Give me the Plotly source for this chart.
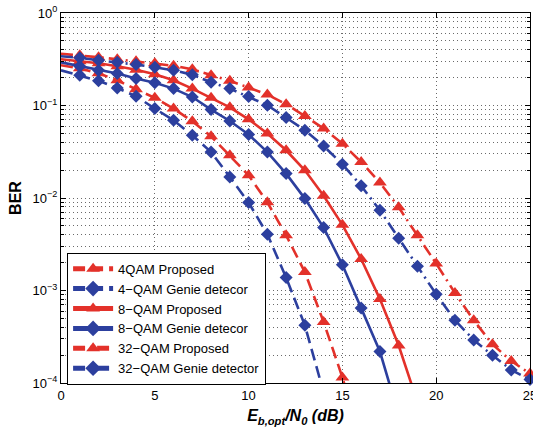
import plotly.graph_objects as go

# Eb,opt/N0 (dB)
snr_db = list(range(0, 26))

# BER values
qam4_prop = [0.272, 0.2524, 0.2229, 0.1872, 0.1497, 0.1211, 0.0926, 0.0675, 0.0465, 0.0289,
             0.01759, 0.00898, 0.00395, 0.00158, 0.000456, 0.000115, 0.000023]
qam4_genie = [0.2402, 0.2121, 0.1849, 0.1546, 0.1257, 0.0926, 0.0692, 0.0476, 0.0314, 0.01686,
              0.00894, 0.00405, 0.001379, 0.00042, 0.000079]
qam8_prop = [0.3158, 0.3005, 0.2858, 0.2653, 0.2431, 0.2175, 0.1872, 0.1523, 0.1211, 0.0956,
             0.0709, 0.0497, 0.0328, 0.01993, 0.01056, 0.00513, 0.00219, 0.000807, 0.000254, 0.000062]
qam8_genie = [0.2931, 0.2653, 0.2402, 0.2213, 0.1953, 0.1759, 0.1523, 0.1235, 0.0903, 0.0680,
              0.0485, 0.0314, 0.01835, 0.00985, 0.00479, 0.001896, 0.000645, 0.000219, 0.000045]
qam32_prop = [0.3622, 0.3488, 0.3320, 0.3158, 0.3005, 0.2858, 0.2686, 0.2462, 0.2121, 0.1849,
              0.1561, 0.1312, 0.1030, 0.0770, 0.0563, 0.0387, 0.0245, 0.01467, 0.00793, 0.00395,
              0.001953, 0.000940, 0.000476, 0.000262, 0.0001729, 0.0001264]
qam32_genie = [0.3402, 0.3279, 0.3081, 0.2931, 0.2768, 0.2588, 0.2402, 0.2147, 0.1781, 0.1523,
               0.1248, 0.1005, 0.0740, 0.0539, 0.0365, 0.02313, 0.01354, 0.00736, 0.00368, 0.001826,
               0.000910, 0.000476, 0.000292, 0.0001993, 0.0001385, 0.0001088]

labels = ["4QAM Proposed", "4\u2212QAM Genie detecor", "8\u2212QAM Proposed",
          "8\u2212QAM Genie detecor", "32\u2212QAM Proposed", "32\u2212QAM Genie detector"]

RED = "#E3312A"
BLUE = "#2C3F9E"
FONT = "Liberation Sans, Arial, Helvetica, sans-serif"
GRID = "#6a6a6a"
GRIDDASH = "1px,3px"
DASH = "12px,6px"
DASHDOT = "12px,5px,2px,5px"

series = [
    (qam4_prop, labels[0], RED, DASH, "triangle-up", 12),
    (qam4_genie, labels[1], BLUE, DASH, "diamond", 10),
    (qam8_prop, labels[2], RED, "solid", "triangle-up", 12),
    (qam8_genie, labels[3], BLUE, "solid", "diamond", 10),
    (qam32_prop, labels[4], RED, DASHDOT, "triangle-up", 12),
    (qam32_genie, labels[5], BLUE, DASHDOT, "diamond", 10),
]

fig = go.Figure()
for vals, name, col, dash, sym, msz in series:
    xs = snr_db[:len(vals)]
    sizes = [0 if (x == 0 or v < 1e-4) else msz for x, v in zip(xs, vals)]
    fig.add_trace(go.Scatter(
        x=xs, y=vals, name=name, mode="lines+markers",
        line=dict(color=col, width=2.6, dash=dash),
        marker=dict(symbol=sym, size=sizes, color=col, opacity=1, line=dict(width=0)),
        cliponaxis=False,
    ))

ytickvals = [1e-4, 1e-3, 1e-2, 1e-1, 1]
yticktext = ["10<sup>\u22124</sup>", "10<sup>\u22123</sup>", "10<sup>\u22122</sup>",
             "10<sup>\u22121</sup>", "10<sup>0</sup>"]

fig.update_layout(
    width=533, height=431,
    margin=dict(l=61, r=3, t=13, b=48),
    paper_bgcolor="white", plot_bgcolor="white",
    font=dict(family=FONT, size=13, color="black"),
    showlegend=True,
    legend=dict(
        x=0.013, y=0.352, xanchor="left", yanchor="top",
        bgcolor="white", bordercolor="black", borderwidth=1,
        font=dict(family=FONT, size=13, color="black"),
        itemsizing="constant", itemwidth=40, tracegroupgap=0,
    ),
    xaxis=dict(
        range=[0, 25], tickvals=[0, 5, 10, 15, 20, 25], automargin=False,
        ticklabeloverflow="allow",
        showline=True, linecolor="black", linewidth=1, mirror="allticks",
        ticks="inside", ticklen=5, tickcolor="black",
        showgrid=True, gridcolor=GRID, griddash=GRIDDASH, gridwidth=1,
        zeroline=False,
        tickfont=dict(family=FONT, size=13),
        title=dict(text="<b><i>E<sub>b,opt</sub>/N<sub>0</sub> (dB)</i></b>",
                   font=dict(family=FONT, size=16), standoff=8),
    ),
    yaxis=dict(
        type="log", range=[-4, 0], automargin=False,
        tickvals=ytickvals, ticktext=yticktext,
        showline=True, linecolor="black", linewidth=1, mirror="allticks",
        ticks="inside", ticklen=5, tickcolor="black",
        showgrid=True, gridcolor=GRID, griddash=GRIDDASH, gridwidth=1,
        zeroline=False,
        tickfont=dict(family=FONT, size=13),
        minor=dict(dtick="D1", ticks="inside", ticklen=3, tickcolor="black",
                   showgrid=True, gridcolor=GRID, griddash=GRIDDASH, gridwidth=1),
        title=dict(text="<b>BER</b>", font=dict(family=FONT, size=16), standoff=6),
    ),
)

fig.write_html("out.html", config={"displayModeBar": False},
               post_script="document.body.style.margin='0';")
